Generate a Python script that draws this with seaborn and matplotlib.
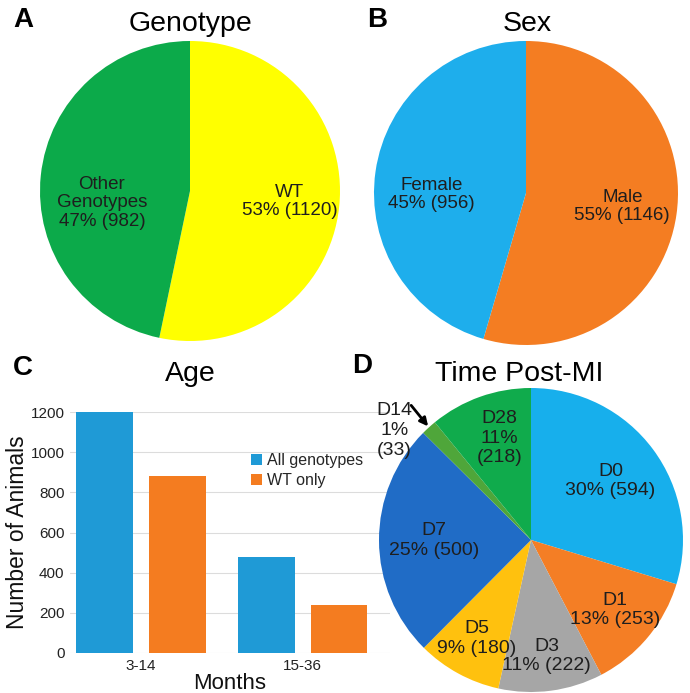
import numpy as np
import pandas as pd
import matplotlib
matplotlib.use("Agg")
import matplotlib.pyplot as plt
import seaborn as sns

# data
geno_labels = ["WT", "Other\nGenotypes"]
geno_counts = [1120, 982]
geno_pcts = [53, 47]
geno_colors = ["#FFFF00", "#0CAA4A"]

sex_labels = ["Male", "Female"]
sex_counts = [1146, 956]
sex_pcts = [55, 45]
sex_colors = ["#F47D22", "#1EAEEC"]

age_groups = ["3-14", "15-36"]
age_all = [1200, 478]
age_wt = [880, 240]
age_series = ["All genotypes", "WT only"]
age_colors = ["#1F9AD6", "#F47C20"]

time_labels = ["D0", "D1", "D3", "D5", "D7", "D14", "D28"]
time_counts = [594, 253, 222, 180, 500, 33, 218]
time_pcts = [30, 13, 11, 9, 25, 1, 11]
time_colors = ["#17AFEC", "#F47E25", "#A6A6A6", "#FFC10E", "#206CC6", "#4FA63A", "#10AB4C"]

sns.set_theme(style="white")
plt.rcParams["font.family"] = ["Liberation Sans", "DejaVu Sans"]

W, H = 690, 693
fig = plt.figure(figsize=(W / 100, H / 100), dpi=100)


def px_axes(x0, y0, x1, y1):
    # pixel box (top-left origin) -> figure axes
    return fig.add_axes([x0 / W, 1 - y1 / H, (x1 - x0) / W, (y1 - y0) / H])


def draw_pie(ax, counts, texts_in, colors, dists, fs=13.5, ls=1.1):
    wedges, _ = ax.pie(counts, colors=colors, startangle=90, counterclock=False,
                       wedgeprops=dict(linewidth=0))
    ax.set_xlim(-1, 1)
    ax.set_ylim(-1, 1)
    ax.set_aspect("equal")
    texts = []
    for w, s, d in zip(wedges, texts_in, dists):
        th = np.deg2rad((w.theta1 + w.theta2) / 2)
        t = ax.text(d[0] * np.cos(th) + d[1], d[0] * np.sin(th) + d[2], s,
                    ha="center", va="center", fontsize=fs, color="#1E1E1E",
                    linespacing=ls)
        texts.append(t)
    return wedges, texts


# A: genotype
axA = px_axes(40, 41, 340, 341)
draw_pie(axA, geno_counts,
         [f"{l}\n{p}% ({n})" for l, p, n in zip(geno_labels, geno_pcts, geno_counts)],
         geno_colors, [(0.67, 0, 0), (0.59, 0, -0.14)])

# B: sex
axB = px_axes(374, 41, 678, 345)
draw_pie(axB, sex_counts,
         [f"{l}\n{p}% ({n})" for l, p, n in zip(sex_labels, sex_pcts, sex_counts)],
         sex_colors, [(0.64, 0, 0), (0.63, 0, -0.1)])

# C: age bar chart
df_age = pd.DataFrame({
    "Months": age_groups * 2,
    "Count": age_all + age_wt,
    "Series": [age_series[0]] * 2 + [age_series[1]] * 2,
})
axC = px_axes(70, 412, 390, 653)
sns.barplot(data=df_age, x="Months", y="Count", hue="Series", palette=age_colors,
            width=0.9, gap=0.22, ax=axC, saturation=1, linewidth=0)
axC.set_ylim(0, 1200)
axC.set_xlim(-0.44, 1.54)
axC.set_yticks(range(0, 1201, 200))
axC.yaxis.grid(True, color="#DCDCDC", linewidth=0.8)
axC.set_axisbelow(True)
for s in axC.spines.values():
    s.set_visible(False)
axC.tick_params(axis="both", length=0, labelsize=11, colors="#222222", pad=4)
axC.set_xlabel("Months", fontsize=16, labelpad=0, color="#111111")
axC.set_ylabel("Number of Animals", fontsize=16.5, labelpad=1, color="#111111")
axC.legend(loc="upper left", bbox_to_anchor=(0.545, 0.855), frameon=False,
           fontsize=11.5, handlelength=0.7, handleheight=0.7, handletextpad=0.3,
           labelspacing=0.3, borderaxespad=0)

# D: time post-MI
time_texts = [f"{l}\n{p}% ({n})" for l, p, n in zip(time_labels, time_pcts, time_counts)]
time_texts = [s if l not in ("D14", "D28") else s.replace("% (", "%\n(")
              for s, l in zip(time_texts, time_labels)]
axD = px_axes(379, 388, 683, 692)
wD, tD = draw_pie(axD, time_counts, time_texts, time_colors,
                  [(0.65, 0, 0), (0.72, 0, 0), (0.77, 0, 0), (0.74, 0, 0),
                   (0.64, 0, 0), (0, 0, 0), (0.71, 0.03, 0)], fs=14, ls=1.2)
# D14 label sits outside with an arrow
i14 = time_labels.index("D14")
tD[i14].set_position((-0.9, 0.72))
th14 = np.deg2rad((wD[i14].theta1 + wD[i14].theta2) / 2)
axD.annotate("", xy=(0.99 * np.cos(th14), 0.99 * np.sin(th14)), xytext=(-0.8, 0.9),
             arrowprops=dict(arrowstyle="-|>", color="black", lw=2, mutation_scale=12),
             annotation_clip=False)

# titles and panel letters
for x, y, s in [(190, 24, "Genotype"), (527, 24, "Sex"), (190, 374, "Age"), (519, 374, "Time Post-MI")]:
    fig.text(x / W, 1 - y / H, s, ha="center", va="center", fontsize=20.5, color="black")
for x, y, s in [(23, 20, "A"), (377, 20, "B"), (23, 368, "C"), (362, 366, "D")]:
    fig.text(x / W, 1 - y / H, s, ha="center", va="center", fontsize=20,
             fontweight="bold", color="black")

fig.savefig("out.png", dpi=100)
